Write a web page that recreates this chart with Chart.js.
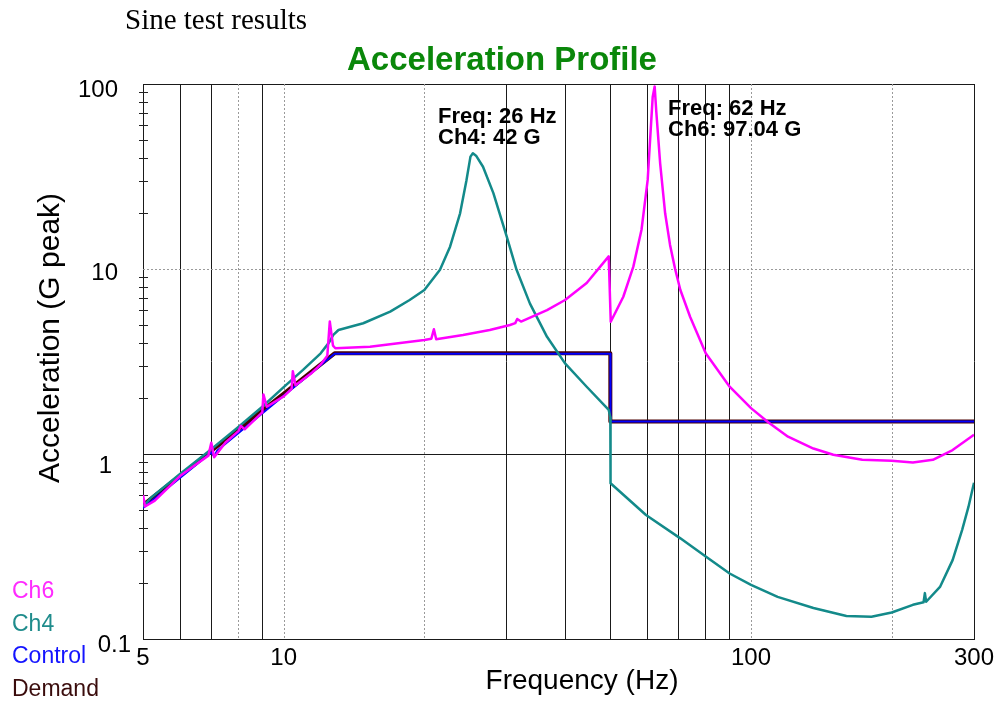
<!DOCTYPE html>
<html lang="en">
<head>
    <meta charset="UTF-8">
    <title>Acceleration Profile</title>
    <script src="https://cdn.jsdelivr.net/npm/chart.js"></script>
    <style>
        body { margin: 0; background: #fff; }
    </style>
</head>
<body>
    <canvas id="sineChart" width="997" height="702"></canvas>

    <script>
        // Sweep data (Hz, G peak)
        const ch6Freq = [5, 5.05, 5.3, 6, 6.5, 6.9, 7.0, 7.1, 7.5, 8, 8.1, 8.25, 9, 9.05, 9.2, 10, 10.4, 10.46, 10.6, 11.5,
                         12, 12.4, 12.55, 12.75, 12.9, 15.3, 20, 20.7, 20.96, 21.2, 24.2, 27.6, 30.5, 31.3, 31.6, 32.2, 36.6, 40, 44.5, 49.6,
                         50.1, 53.3, 56, 58.3, 60.1, 61, 61.6, 62.2, 62.7, 63.9, 65.5, 67.1, 68.8, 70.6, 74.1, 80, 90, 100, 109, 120,
                         136, 150, 173, 200, 222, 245, 270, 300];
        const ch6Acc  = [0.6, 0.52, 0.56, 0.76, 0.88, 0.98, 1.15, 0.96, 1.15, 1.33, 1.42, 1.36, 1.68, 2.1, 1.8, 2.05, 2.25, 2.8, 2.35, 2.75,
                         3.05, 3.4, 5.2, 3.85, 3.73, 3.8, 4.13, 4.2, 4.72, 4.17, 4.4, 4.68, 4.98, 5.1, 5.37, 5.2, 6.0, 6.8, 8.4, 11.7,
                         5.19, 7.08, 10.3, 16.3, 30.3, 56.5, 85, 97, 71, 37.4, 20, 13.5, 10, 7.7, 5.5, 3.5, 2.31, 1.77, 1.48, 1.24,
                         1.07, 0.99, 0.93, 0.92, 0.90, 0.93, 1.05, 1.27];

        const ch4Freq = [5, 5.2, 6, 7, 8, 9, 10, 11, 12, 12.5, 12.77, 13.1, 14.8, 16.9, 18.6, 20, 21.6, 22.7, 23.85, 24.6,
                         25.1, 25.4, 25.8, 26.7, 28.1, 30, 31.5, 33.65, 36.6, 40, 44.5, 49.6, 50, 50.05, 59.6, 70.6, 80, 90, 100, 114,
                         136, 160, 181, 200, 222, 234, 235.5, 237, 254, 270, 283, 292, 300];
        const ch4Acc  = [0.52, 0.58, 0.78, 1.06, 1.4, 1.8, 2.3, 2.85, 3.5, 4.0, 4.4, 4.68, 5.09, 5.88, 6.8, 7.7, 9.9, 13.2, 20, 30,
                         40.5, 42.2, 41, 35.7, 25.7, 15, 9.9, 6.5, 4.3, 3.09, 2.31, 1.73, 1.58, 0.695, 0.468, 0.35, 0.279, 0.226, 0.196, 0.169,
                         0.147, 0.133, 0.132, 0.139, 0.153, 0.158, 0.177, 0.159, 0.192, 0.267, 0.389, 0.519, 0.70];

        const controlFreq = [5, 7.0, 7.1, 7.2, 12.85, 50, 50.05, 300];
        const controlAcc  = [0.51, 1.02, 0.97, 1.04, 3.48, 3.48, 1.5, 1.5];

        const demandFreq = [5, 12.85, 50, 50, 300];
        const demandAcc  = [0.53, 3.5, 3.5, 1.5, 1.5];

        // Axis / grid layout
        const xTickLabels = [5, 10, 100, 300];
        const yTickLabels = ['0.1', '1', '10', '100'];
        const xGridSolid  = [5, 6, 7, 9, 30, 40, 50, 60, 70, 80, 90, 300];
        const xGridDotted = [8, 10, 20, 100, 200];
        const yGridSolid  = [0.1, 1, 100];
        const yGridDotted = [10];
        const yMinor = [0.2, 0.3, 0.4, 0.5, 0.6, 0.7, 0.8, 0.9, 2, 3, 4, 5, 6, 7, 8, 9, 20, 30, 40, 50, 60, 70, 80, 90];

        const peaks = [
            { lines: ['Freq: 26 Hz', 'Ch4: 42 G'], x: 438, y: 123 },
            { lines: ['Freq: 62 Hz', 'Ch6: 97.04 G'], x: 668, y: 115 }
        ];

        const FONT = "'Liberation Sans', Arial, sans-serif";

        function toPoints(fs, as) {
            return fs.map((f, i) => ({ x: f, y: as[i] }));
        }

        const sineDecor = {
            id: 'sineDecor',
            beforeDatasetsDraw(chart) {
                const { ctx, chartArea: a, scales: { x, y } } = chart;
                ctx.save();
                ctx.strokeStyle = '#9a9a9a';
                ctx.lineWidth = 1;
                ctx.setLineDash([2, 2]);
                xGridDotted.forEach(v => {
                    const px = Math.round(x.getPixelForValue(v)) + 0.5;
                    ctx.beginPath(); ctx.moveTo(px, a.top); ctx.lineTo(px, a.bottom); ctx.stroke();
                });
                yGridDotted.forEach(v => {
                    const py = Math.round(y.getPixelForValue(v)) + 0.5;
                    ctx.beginPath(); ctx.moveTo(a.left, py); ctx.lineTo(a.right, py); ctx.stroke();
                });
                ctx.setLineDash([]);
                ctx.strokeStyle = '#222';
                yMinor.forEach(v => {
                    const py = Math.round(y.getPixelForValue(v)) + 0.5;
                    ctx.beginPath(); ctx.moveTo(a.left - 4, py); ctx.lineTo(a.left + 5, py); ctx.stroke();
                });
                ctx.restore();
            },
            afterDraw(chart) {
                const { ctx, scales: { x, y } } = chart;
                ctx.save();
                ctx.fillStyle = '#000';

                ctx.font = "29px 'Liberation Serif', 'Times New Roman', serif";
                ctx.textAlign = 'left';
                ctx.fillText('Sine test results', 125, 29);

                ctx.font = 'bold 33px ' + FONT;
                ctx.fillStyle = '#0a870a';
                ctx.textAlign = 'center';
                ctx.fillText('Acceleration Profile', 502, 70);

                ctx.fillStyle = '#000';
                ctx.font = '24px ' + FONT;
                xTickLabels.forEach(v => {
                    ctx.textAlign = 'center';
                    ctx.fillText(String(v), x.getPixelForValue(v), 665);
                });
                // labels sit a little below their grid lines, as in the original
                const yOff = { '0.1': 13, '1': 19, '10': 11, '100': 13 };
                yTickLabels.forEach(t => {
                    ctx.textAlign = 'right';
                    const rx = t === '0.1' ? 131 : (t === '1' ? 112 : 118);
                    ctx.fillText(t, rx, y.getPixelForValue(parseFloat(t)) + yOff[t]);
                });

                ctx.font = '28px ' + FONT;
                ctx.textAlign = 'center';
                ctx.fillText('Frequency (Hz)', 582, 689);

                ctx.save();
                ctx.translate(59, 338);
                ctx.rotate(-Math.PI / 2);
                ctx.font = '30px ' + FONT;
                ctx.fillText('Acceleration (G peak)', 0, 0);
                ctx.restore();

                ctx.font = 'bold 22px ' + FONT;
                ctx.textAlign = 'left';
                peaks.forEach(p => {
                    p.lines.forEach((l, i) => ctx.fillText(l, p.x, p.y + i * 21));
                });

                ctx.font = '23px ' + FONT;
                chart.data.datasets.forEach((ds, i) => {
                    ctx.fillStyle = ds.labelColor;
                    ctx.fillText(ds.label, 12, 598 + i * 32.7);
                });
                ctx.restore();
            }
        };

        function gridColor(solid) {
            return c => (c.tick && solid.includes(c.tick.value)) ? '#1a1a1a' : 'rgba(0,0,0,0)';
        }

        const ctx = document.getElementById('sineChart').getContext('2d');
        new Chart(ctx, {
            type: 'line',
            data: {
                datasets: [
                    { label: 'Ch6', data: toPoints(ch6Freq, ch6Acc), borderColor: '#ff00ff', labelColor: '#ff2bff', borderWidth: 2.5 },
                    { label: 'Ch4', data: toPoints(ch4Freq, ch4Acc), borderColor: '#138a8a', labelColor: '#1f8c8c', borderWidth: 2.5 },
                    { label: 'Control', data: toPoints(controlFreq, controlAcc), borderColor: '#0000ff', labelColor: '#1414ff', borderWidth: 2 },
                    { label: 'Demand', data: toPoints(demandFreq, demandAcc), borderColor: '#4a0000', labelColor: '#3a0c0c', borderWidth: 4 }
                ]
            },
            options: {
                responsive: false,
                animation: false,
                layout: { padding: { left: 143, top: 84, right: 23, bottom: 63 } },
                elements: { point: { radius: 0 }, line: { tension: 0, borderJoinStyle: 'round' } },
                plugins: { legend: { display: false }, tooltip: { enabled: false } },
                scales: {
                    x: {
                        type: 'logarithmic', min: 5, max: 300,
                        afterBuildTicks: s => { s.ticks = xGridSolid.concat(xGridDotted).map(v => ({ value: v })); },
                        ticks: { display: false },
                        grid: { color: gridColor(xGridSolid), drawTicks: false, lineWidth: 1 },
                        border: { color: '#1a1a1a', width: 1 }
                    },
                    y: {
                        type: 'logarithmic', min: 0.1, max: 100,
                        afterBuildTicks: s => { s.ticks = yGridSolid.concat(yGridDotted).map(v => ({ value: v })); },
                        ticks: { display: false },
                        grid: { color: gridColor(yGridSolid), drawTicks: false, lineWidth: 1 },
                        border: { color: '#1a1a1a', width: 1 }
                    }
                }
            },
            plugins: [sineDecor]
        });
    </script>
</body>
</html>
